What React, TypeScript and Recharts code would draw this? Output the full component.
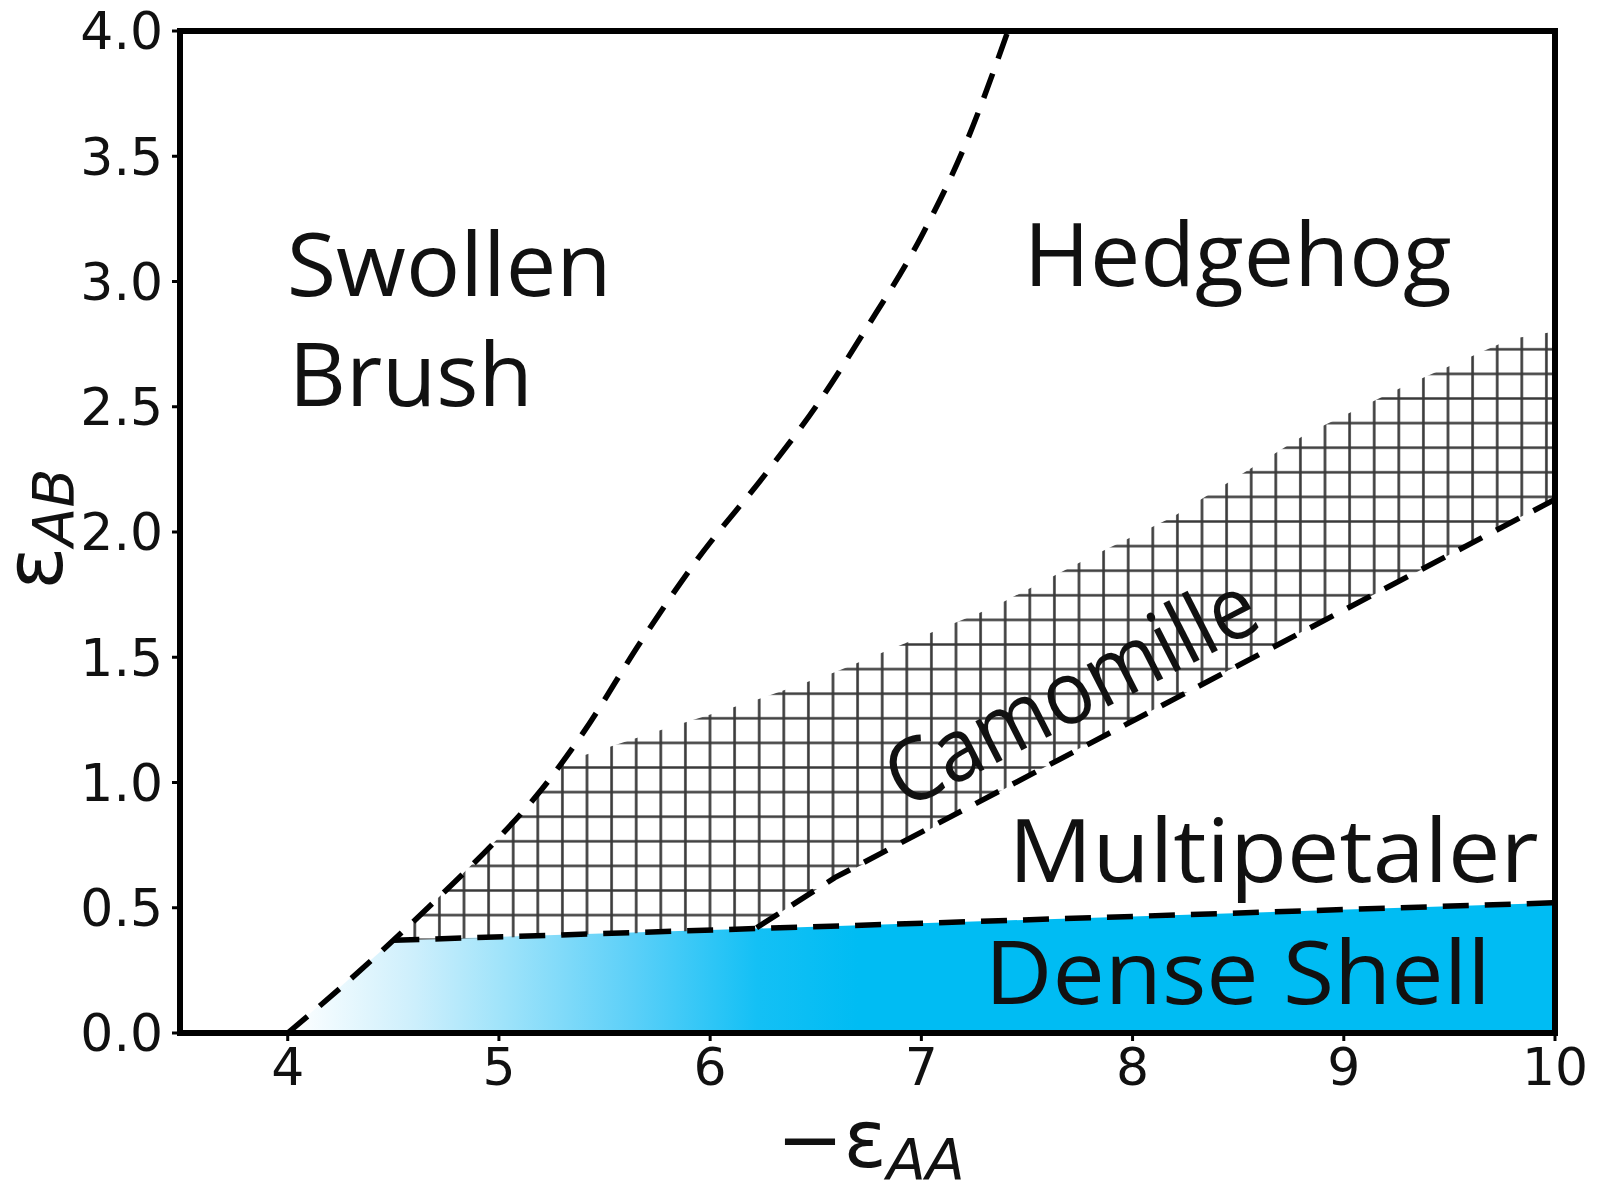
import React from 'react';
import { ComposedChart, Area, Line, XAxis, YAxis, ReferenceDot, ReferenceArea } from 'recharts';

// ---- data ----
const xTicks = [4, 5, 6, 7, 8, 9, 10];
const yTicks = [0, 0.5, 1, 1.5, 2, 2.5, 3, 3.5, 4];

// Swollen Brush / Hedgehog boundary
const swollenX = [4.0, 4.25, 4.5, 4.75, 5.0, 5.2, 5.4, 5.67, 5.93, 6.27, 6.5, 6.73, 7.0, 7.21, 7.41];
const swollenY = [0.0, 0.18, 0.37, 0.57, 0.78, 0.97, 1.2, 1.56, 1.88, 2.24, 2.5, 2.8, 3.18, 3.55, 4.0];

// Dense shell upper boundary
const denseX = [4.0, 4.5, 10];
const denseY = [0.0, 0.37, 0.52];

// Camomille / Multipetaler boundary
const camBoundX = [6.22, 6.59, 8.19, 10];
const camBoundY = [0.42, 0.62, 1.33, 2.13];

// Camomille hatched band
const hatchX = [4.5, 4.75, 5.0, 5.3, 5.73, 6.11, 6.22, 6.59, 6.79, 7.34, 7.8, 8.19, 8.82, 9.28, 9.79, 10];
const hatchLow = [0.37, 0.375, 0.38, 0.39, 0.4, 0.415, 0.42, 0.62, 0.7, 0.95, 1.16, 1.33, 1.61, 1.81, 2.04, 2.13];
const hatchHigh = [0.37, 0.57, 0.78, 1.08, 1.2, 1.3, 1.33, 1.44, 1.51, 1.7, 1.9, 2.06, 2.39, 2.58, 2.77, 2.8];

// Region labels
const labelText = ['Swollen', 'Brush', 'Hedgehog', 'Multipetaler', 'Dense Shell', 'Camomille'];
const labelX = [3.995, 4.005, 7.485, 7.413, 7.3, 7.7];
const labelY = [2.942, 2.503, 2.984, 0.603, 0.116, 1.377];

// ---- styles ----
const labelWidths = [325, 244, 428, 530, 506, 405];
const labelRot = [0, 0, 0, 0, 0, -27];
const regionFont = "'Comic Sans MS', 'Open Sans', sans-serif";
const tickFont = "'DejaVu Sans', sans-serif";

const swollenData = swollenX.map((x, i) => ({ x, y: swollenY[i] }));
const denseData = denseX.map((x, i) => ({ x, dense: denseY[i] }));
const denseLineData = denseX.slice(1).map((x, i) => ({ x, y: denseY[i + 1] }));
const camLineData = camBoundX.map((x, i) => ({ x, y: camBoundY[i] }));
const hatchData = hatchX.map((x, i) => ({ x, cam: [hatchLow[i], hatchHigh[i]] }));

const XLabel = (props: any) => {
  const vb = props.viewBox || {};
  const cx = vb.x + vb.width / 2 + 3;
  const y = vb.y + 134;
  return (
    <text x={cx} y={y} textAnchor="middle" fontFamily={tickFont} fontSize={80} fill="#111">
      <tspan>−ε</tspan>
      <tspan fontSize={57} fontStyle="italic" dy={13}>AA</tspan>
    </text>
  );
};

const YLabel = (props: any) => {
  const vb = props.viewBox || {};
  const x = vb.x + 62;
  const y = vb.y + vb.height / 2 - 3;
  return (
    <text x={x} y={y} textAnchor="middle" transform={`rotate(-90 ${x} ${y})`} fontFamily={tickFont} fontSize={80} fill="#111">
      <tspan>ε</tspan>
      <tspan fontSize={57} fontStyle="italic" dy={12}>AB</tspan>
    </text>
  );
};

const makeLabelShape = (i: number) => (p: any) => {
  const { cx, cy } = p;
  if (labelRot[i]) {
    return (
      <text x={cx} y={cy} textAnchor="middle" dominantBaseline="central" transform={`rotate(${labelRot[i]} ${cx} ${cy})`}
        fontFamily={regionFont} fontSize={88} fill="#111" textLength={labelWidths[i]} lengthAdjust="spacingAndGlyphs">
        {labelText[i]}
      </text>
    );
  }
  return (
    <text x={cx} y={cy} fontFamily={regionFont} fontSize={88} fill="#111" textLength={labelWidths[i]} lengthAdjust="spacingAndGlyphs">
      {labelText[i]}
    </text>
  );
};

export default function App() {
  return (
    <div style={{ position: 'absolute', left: 0, top: 0, width: 1599, height: 1192, background: '#fff' }}>
      <ComposedChart width={1599} height={1192} margin={{ top: 31, right: 44, bottom: 0, left: 0 }}>
        <defs>
          <linearGradient id="denseGrad" x1="0" y1="0" x2="1" y2="0">
            <stop offset="0" stopColor="#ffffff" />
            <stop offset="0.1" stopColor="#cdeffc" />
            <stop offset="0.17" stopColor="#9fe3fa" />
            <stop offset="0.27" stopColor="#5dd0f8" />
            <stop offset="0.37" stopColor="#14c0f5" />
            <stop offset="0.45" stopColor="#00bcf3" />
            <stop offset="1" stopColor="#00bcf3" />
          </linearGradient>
          <pattern id="hatch" patternUnits="userSpaceOnUse" width={24.6} height={24.6} x={8.9} y={-7.4}>
            <path d="M12.3 0 V24.6 M0 12.3 H24.6" stroke="#3a3a3a" strokeWidth={2.6} fill="none" />
          </pattern>
        </defs>
        <XAxis
          dataKey="x"
          type="number"
          domain={[3.49, 10]}
          allowDataOverflow
          ticks={xTicks}
          height={159}
          axisLine={{ stroke: '#000', strokeWidth: 6 }}
          tickLine={{ stroke: '#000', strokeWidth: 3 }}
          tickSize={8}
          tickMargin={7}
          tick={{ fontSize: 52, fontFamily: tickFont, fill: '#111' }}
          label={<XLabel />}
        />
        <YAxis
          type="number"
          domain={[0, 4]}
          allowDataOverflow
          ticks={yTicks}
          width={180}
          axisLine={{ stroke: '#000', strokeWidth: 6 }}
          tickLine={{ stroke: '#000', strokeWidth: 3 }}
          tickSize={8}
          tickMargin={9}
          tickFormatter={(v: number) => v.toFixed(1)}
          tick={{ fontSize: 52, fontFamily: tickFont, fill: '#111' }}
          label={<YLabel />}
        />
        <Area data={denseData} dataKey="dense" type="linear" stroke="none" fill="url(#denseGrad)" fillOpacity={1} isAnimationActive={false} baseValue={0} />
        <Area data={hatchData} dataKey="cam" type="linear" stroke="none" fill="url(#hatch)" fillOpacity={1} isAnimationActive={false} />
        <Line data={swollenData} dataKey="y" type="monotone" stroke="#000" strokeWidth={5.5} strokeDasharray="26 16" dot={false} isAnimationActive={false} />
        <Line data={denseLineData} dataKey="y" type="linear" stroke="#000" strokeWidth={5.5} strokeDasharray="26 16" dot={false} isAnimationActive={false} />
        <Line data={camLineData} dataKey="y" type="linear" stroke="#000" strokeWidth={5.5} strokeDasharray="26 16" dot={false} isAnimationActive={false} />
        <ReferenceArea x1={3.49} x2={10} y1={0} y2={4} fill="none" fillOpacity={0} stroke="#000" strokeWidth={6} ifOverflow="visible" zIndex={1000} />
        {labelText.map((t, i) => (
          <ReferenceDot key={t} x={labelX[i]} y={labelY[i]} r={1} shape={makeLabelShape(i)} ifOverflow="visible" zIndex={1100} />
        ))}
      </ComposedChart>
    </div>
  );
}
